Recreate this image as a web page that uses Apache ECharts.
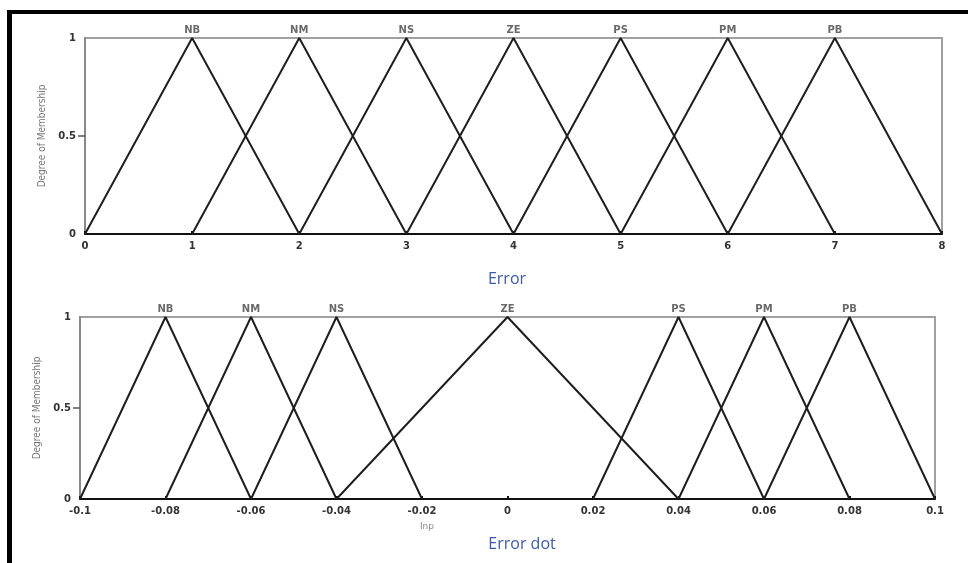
<!DOCTYPE html>
<html>
<head>
<meta charset="utf-8">
<script src="https://cdn.jsdelivr.net/npm/echarts@6/dist/echarts.min.js"></script>
<style>
  html, body { margin: 0; padding: 0; background: #fff; }
  #chart { width: 968px; height: 563px; }
</style>
</head>
<body>
<div id="chart"></div>
<script>
// Fuzzy set labels shared by both inputs
const setNames = ['NB', 'NM', 'NS', 'ZE', 'PS', 'PM', 'PB'];

// "Error" input: triangular membership functions (left foot, peak, right foot)
const errorLeft  = [0, 1, 2, 3, 4, 5, 6];
const errorPeak  = [1, 2, 3, 4, 5, 6, 7];
const errorRight = [2, 3, 4, 5, 6, 7, 8];
const errorTicks = { min: 0, max: 8, step: 1 };

// "Error dot" input: triangular membership functions
const dotLeft  = [-0.1, -0.08, -0.06, -0.04, 0.02, 0.04, 0.06];
const dotPeak  = [-0.08, -0.06, -0.04, 0, 0.04, 0.06, 0.08];
const dotRight = [-0.06, -0.04, -0.02, 0.04, 0.06, 0.08, 0.1];
const dotTicks = { min: -0.1, max: 0.1, step: 0.02 };

// Membership (y) axis ticks
const membershipTicks = [0, 0.5, 1];

const labelFont = { fontFamily: 'DejaVu Sans', fontWeight: 'bold', fontSize: 10, color: '#333' };

function triangleSeries(left, peak, right, gridIndex) {
  const out = [];
  for (let i = 0; i < setNames.length; i++) {
    out.push({
      type: 'line',
      name: setNames[i] + '-' + gridIndex,
      xAxisIndex: gridIndex,
      yAxisIndex: gridIndex,
      data: [[left[i], 0], [peak[i], 1], [right[i], 0]],
      symbol: 'none',
      clip: false,
      silent: true,
      lineStyle: { color: '#1e1e1e', width: 2 },
      z: 3
    });
  }
  // set names written above each peak
  out.push({
    type: 'scatter',
    xAxisIndex: gridIndex,
    yAxisIndex: gridIndex,
    symbolSize: 1,
    itemStyle: { color: 'transparent' },
    clip: false,
    silent: true,
    data: peak.map((p, i) => ({ value: [p, 1], name: setNames[i] })),
    label: {
      show: true,
      position: 'top',
      distance: 2,
      formatter: p => p.name,
      fontFamily: 'DejaVu Sans',
      fontWeight: 'bold',
      fontSize: 10,
      color: '#444'
    },
    z: 4
  });
  return out;
}

function xAxisFor(ticks, gridIndex) {
  return {
    type: 'value',
    gridIndex: gridIndex,
    min: ticks.min,
    max: ticks.max,
    interval: ticks.step,
    axisLine: { show: true, onZero: false, lineStyle: { color: '#111', width: 2 } },
    axisTick: { show: true, inside: true, length: 3, lineStyle: { color: '#111', width: 2 } },
    axisLabel: Object.assign({ margin: 7 }, labelFont),
    splitLine: { show: false }
  };
}

function yAxisFor(gridIndex, gap) {
  return {
    type: 'value',
    gridIndex: gridIndex,
    min: membershipTicks[0],
    max: membershipTicks[membershipTicks.length - 1],
    interval: 0.5,
    name: 'Degree of Membership',
    nameLocation: 'middle',
    nameRotate: 90,
    nameGap: gap,
    nameTextStyle: { fontFamily: "'DejaVu Sans Condensed', 'Liberation Sans', sans-serif", fontSize: 10, color: '#777' },
    axisLine: { show: true, onZero: false, lineStyle: { color: '#8a8a8a', width: 2 } },
    axisTick: { show: true, length: 7, customValues: [0.5], lineStyle: { color: '#555', width: 1.5 } },
    axisLabel: Object.assign({ margin: 9 }, labelFont),
    splitLine: { show: false }
  };
}

const chart = echarts.init(document.getElementById('chart'), null, { renderer: 'canvas' });

chart.setOption({
  animation: false,
  backgroundColor: '#fff',
  title: [
    { text: 'Error', left: 502, top: 266, textAlign: 'center',
      textStyle: { fontFamily: 'Open Sans', fontWeight: 'normal', fontSize: 16, color: '#3c5aa6' } },
    { text: 'Error dot', left: 517, top: 531, textAlign: 'center',
      textStyle: { fontFamily: 'Open Sans', fontWeight: 'normal', fontSize: 16, color: '#3c5aa6' } },
    { text: 'Inp', left: 422, top: 517, textAlign: 'center',
      textStyle: { fontFamily: 'DejaVu Sans', fontWeight: 'normal', fontSize: 9, color: '#888' } }
  ],
  grid: [
    { left: 85, top: 38, right: 26, height: 196, show: true, borderColor: '#a0a0a0', borderWidth: 2, backgroundColor: 'transparent' },
    { left: 80, top: 317, right: 33, height: 182, show: true, borderColor: '#a0a0a0', borderWidth: 2, backgroundColor: 'transparent' }
  ],
  xAxis: [xAxisFor(errorTicks, 0), xAxisFor(dotTicks, 1)],
  yAxis: [yAxisFor(0, 34), yAxisFor(1, 36)],
  series: triangleSeries(errorLeft, errorPeak, errorRight, 0)
    .concat(triangleSeries(dotLeft, dotPeak, dotRight, 1)),
  graphic: [
    // heavy frame along the top and left edges
    { type: 'rect', shape: { x: 7, y: 10, width: 961, height: 4 }, style: { fill: '#000' }, silent: true },
    { type: 'rect', shape: { x: 7, y: 10, width: 5, height: 553 }, style: { fill: '#000' }, silent: true }
  ]
});
</script>
</body>
</html>
